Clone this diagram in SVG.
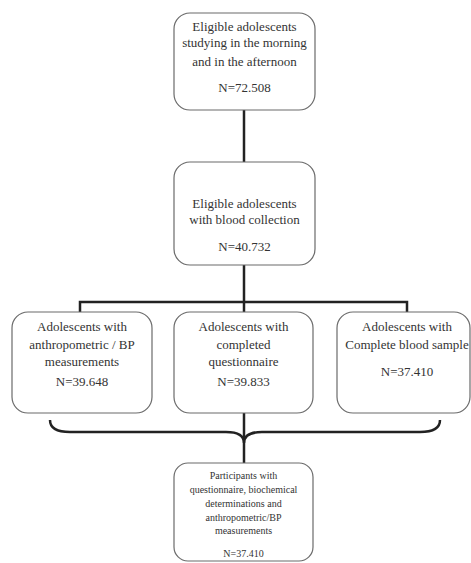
<svg xmlns="http://www.w3.org/2000/svg" width="471" height="563" viewBox="0 0 471 563">
<style>
.box{fill:#fff;stroke:#6b6b6b;stroke-width:1.2}
.t{font-family:"Liberation Serif","Times New Roman",serif;font-size:13px;fill:#333;text-anchor:middle}
.s{font-family:"Liberation Serif","Times New Roman",serif;font-size:10px;fill:#333;text-anchor:middle}
.c{fill:none;stroke:#222;stroke-width:2.5}
</style>
<rect width="471" height="563" fill="#fff"/>
<g id="connectors">
<line class="c" x1="244" y1="110" x2="244" y2="162"/>
<polyline class="c" points="244,265 244,302"/>
<polyline class="c" points="80,313 80,302 407,302 407,313"/>
<line class="c" x1="244" y1="302" x2="244" y2="313"/>
<line class="c" x1="244" y1="413" x2="244" y2="463"/>
<path class="c" d="M50,420 Q50,432 70,432 L226,432 Q244,432 244,443 Q244,432 262,432 L420,432 Q440,432 440,420" stroke-width="2"/>
</g>
<g id="n1">
<rect class="box" x="174" y="13" width="141" height="97" rx="16"/>
<text class="t" x="244.5" y="31">Eligible adolescents</text>
<text class="t" x="244.5" y="47">studying in the morning</text>
<text class="t" x="244.5" y="66">and in the afternoon</text>
<text class="t" x="244.5" y="92">N=72.508</text>
</g>
<g id="n2">
<rect class="box" x="174" y="162" width="141" height="103" rx="16"/>
<text class="t" x="244.5" y="208">Eligible adolescents</text>
<text class="t" x="244.5" y="224">with blood collection</text>
<text class="t" x="244.5" y="251">N=40.732</text>
</g>
<g id="n3">
<rect class="box" x="12" y="312" width="140" height="101" rx="16"/>
<text class="t" x="82" y="331">Adolescents with</text>
<text class="t" x="82" y="349">anthropometric / BP</text>
<text class="t" x="82" y="366">measurements</text>
<text class="t" x="82" y="386">N=39.648</text>
</g>
<g id="n4">
<rect class="box" x="174" y="312" width="139" height="101" rx="16"/>
<text class="t" x="243.5" y="331">Adolescents with</text>
<text class="t" x="243.5" y="349">completed</text>
<text class="t" x="243.5" y="366">questionnaire</text>
<text class="t" x="243.5" y="386">N=39.833</text>
</g>
<g id="n5">
<rect class="box" x="337" y="312" width="133" height="101" rx="16"/>
<text class="t" x="407" y="331">Adolescents with</text>
<text class="t" x="407" y="349">Complete blood sample</text>
<text class="t" x="407" y="376">N=37.410</text>
</g>
<g id="n6">
<rect class="box" x="174" y="463" width="139" height="98" rx="14"/>
<text class="s" x="243.5" y="479">Participants with</text>
<text class="s" x="243.5" y="493">questionnaire, biochemical</text>
<text class="s" x="243.5" y="507">determinations and</text>
<text class="s" x="243.5" y="521">anthropometric/BP</text>
<text class="s" x="243.5" y="534">measurements</text>
<text class="s" x="243.5" y="557">N=37.410</text>
</g>
</svg>
